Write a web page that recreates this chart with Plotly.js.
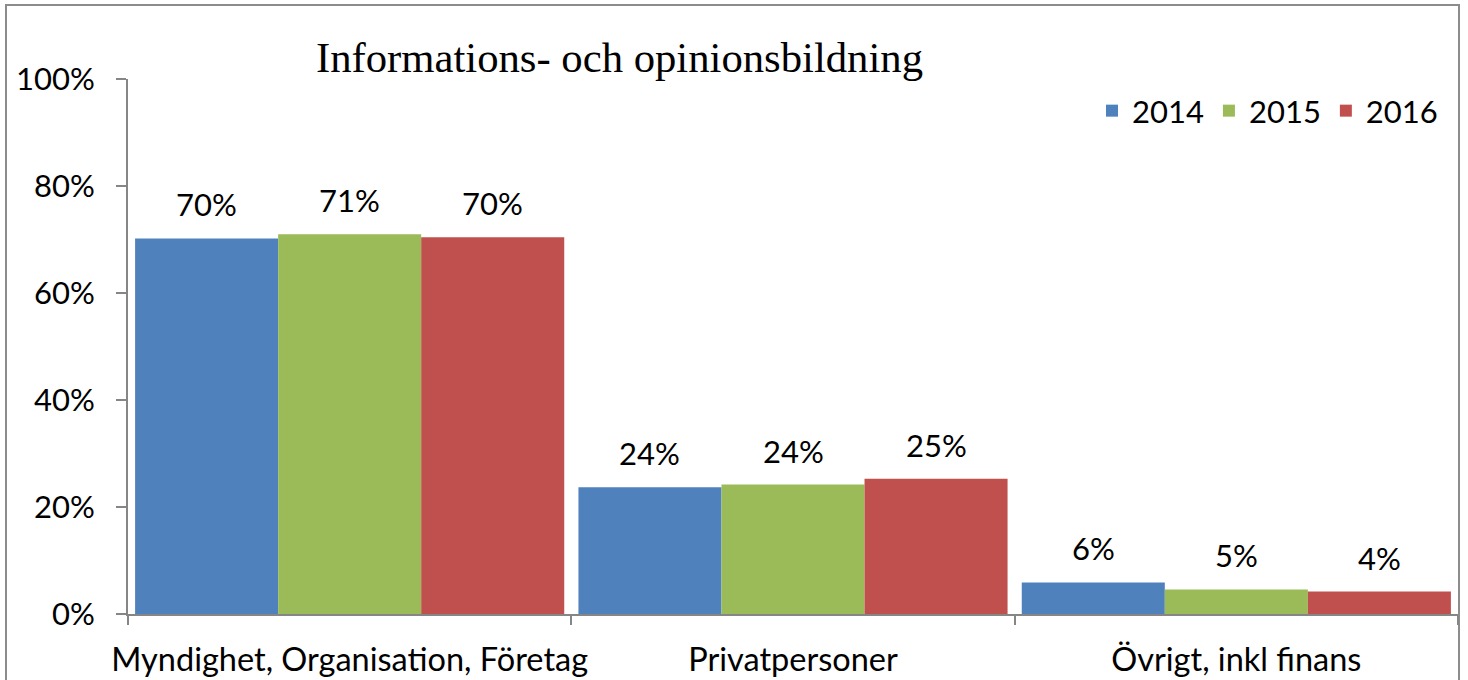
<!DOCTYPE html>
<html>
<head>
<meta charset="utf-8">
<script src="https://cdn.plot.ly/plotly-3.0.1.min.js"></script>
<style>
  html, body { margin: 0; padding: 0; background: #fff; }
  #chart { width: 1468px; height: 680px; }
</style>
</head>
<body>
<div id="chart"></div>
<script>
const categories = ["Myndighet, Organisation, Företag", "Privatpersoner", "Övrigt, inkl finans"];
const years = ["2014", "2015", "2016"];
const values2014 = [0.702, 0.237, 0.059];
const values2015 = [0.710, 0.242, 0.046];
const values2016 = [0.704, 0.253, 0.042];
const labels2014 = ["70%", "24%", "6%"];
const labels2015 = ["71%", "24%", "5%"];
const labels2016 = ["70%", "25%", "4%"];
const colors = ["#4F81BD", "#9BBB59", "#C0504D"];
const yTickVals = [0, 0.2, 0.4, 0.6, 0.8, 1.0];
const yTickText = ["0%", "20%", "40%", "60%", "80%", "100%"];

const W = 1468, H = 680;
const L = 128, R = 10, T = 79, B = 66;
const pw = W - L - R, ph = H - T - B;
const px2x = p => (p - L) / pw;
const py2y = p => (H - B - p) / ph;
const BARGAP = 0.032;

const textFont = { family: "Lato, 'DejaVu Sans', sans-serif", size: 31, color: "#000" };
const xTickFont = { family: "Lato, 'DejaVu Sans', sans-serif", size: 32.5, color: "#000" };

const series = [values2014, values2015, values2016];
const labels = [labels2014, labels2015, labels2016];
const traces = years.map((yr, i) => ({
  type: "bar",
  name: yr,
  x: categories,
  y: series[i],
  marker: { color: colors[i], line: { width: 0 } },
  hoverinfo: "x+y+name"
}));

// data labels placed over each bar via annotations (bar offset computed from the axis band)
const catPx = pw / categories.length;
const barPx = catPx * (1 - BARGAP) / years.length;
const annotations = [];
years.forEach((yr, i) => {
  categories.forEach((c, j) => {
    annotations.push({
      x: c, y: series[i][j], xref: "x", yref: "y",
      xshift: (i - (years.length - 1) / 2) * barPx,
      yshift: 13,
      yanchor: "bottom", xanchor: "center",
      text: labels[i][j], showarrow: false,
      font: textFont
    });
  });
});

const layout = {
  width: W, height: H,
  margin: { l: L, r: R, t: T, b: B, pad: 0 },
  paper_bgcolor: "#fff",
  plot_bgcolor: "#fff",
  barmode: "group",
  bargap: BARGAP,
  bargroupgap: 0,
  font: textFont,
  title: {
    text: "Informations- och opinionsbildning",
    font: { family: "'Liberation Serif', 'Times New Roman', serif", size: 42.7, color: "#000" },
    x: 619.5 / W, xref: "container", xanchor: "center",
    y: 1 - 57 / H, yref: "container", yanchor: "middle"
  },
  showlegend: true,
  legend: {
    orientation: "h",
    x: px2x(1443), xanchor: "right",
    y: py2y(111), yanchor: "middle",
    font: textFont,
    bgcolor: "rgba(0,0,0,0)",
    traceorder: "normal"
  },
  annotations: annotations,
  xaxis: {
    type: "category",
    showgrid: false,
    showline: true, linecolor: "#868686", linewidth: 2,
    ticks: "outside", tickson: "boundaries", ticklen: 9, tickcolor: "#868686", tickwidth: 2,
    tickfont: xTickFont,
    tickangle: 0,
    ticklabelstandoff: 16,
    automargin: false,
    zeroline: false,
    fixedrange: true
  },
  yaxis: {
    range: [0, 1],
    tickvals: yTickVals,
    ticktext: yTickText,
    showgrid: false,
    showline: true, linecolor: "#868686", linewidth: 2,
    ticks: "outside", ticklen: 10, tickcolor: "#868686", tickwidth: 2,
    tickfont: textFont,
    ticklabelstandoff: 15,
    automargin: false,
    zeroline: false,
    fixedrange: true
  },
  shapes: [{
    type: "rect", xref: "paper", yref: "paper",
    x0: px2x(6), x1: px2x(1459), y0: py2y(700), y1: py2y(5),
    line: { color: "#8C8C8C", width: 2 }, fillcolor: "rgba(0,0,0,0)", layer: "below"
  }]
};

Plotly.newPlot("chart", traces, layout, { displayModeBar: false, staticPlot: true });
</script>
</body>
</html>
